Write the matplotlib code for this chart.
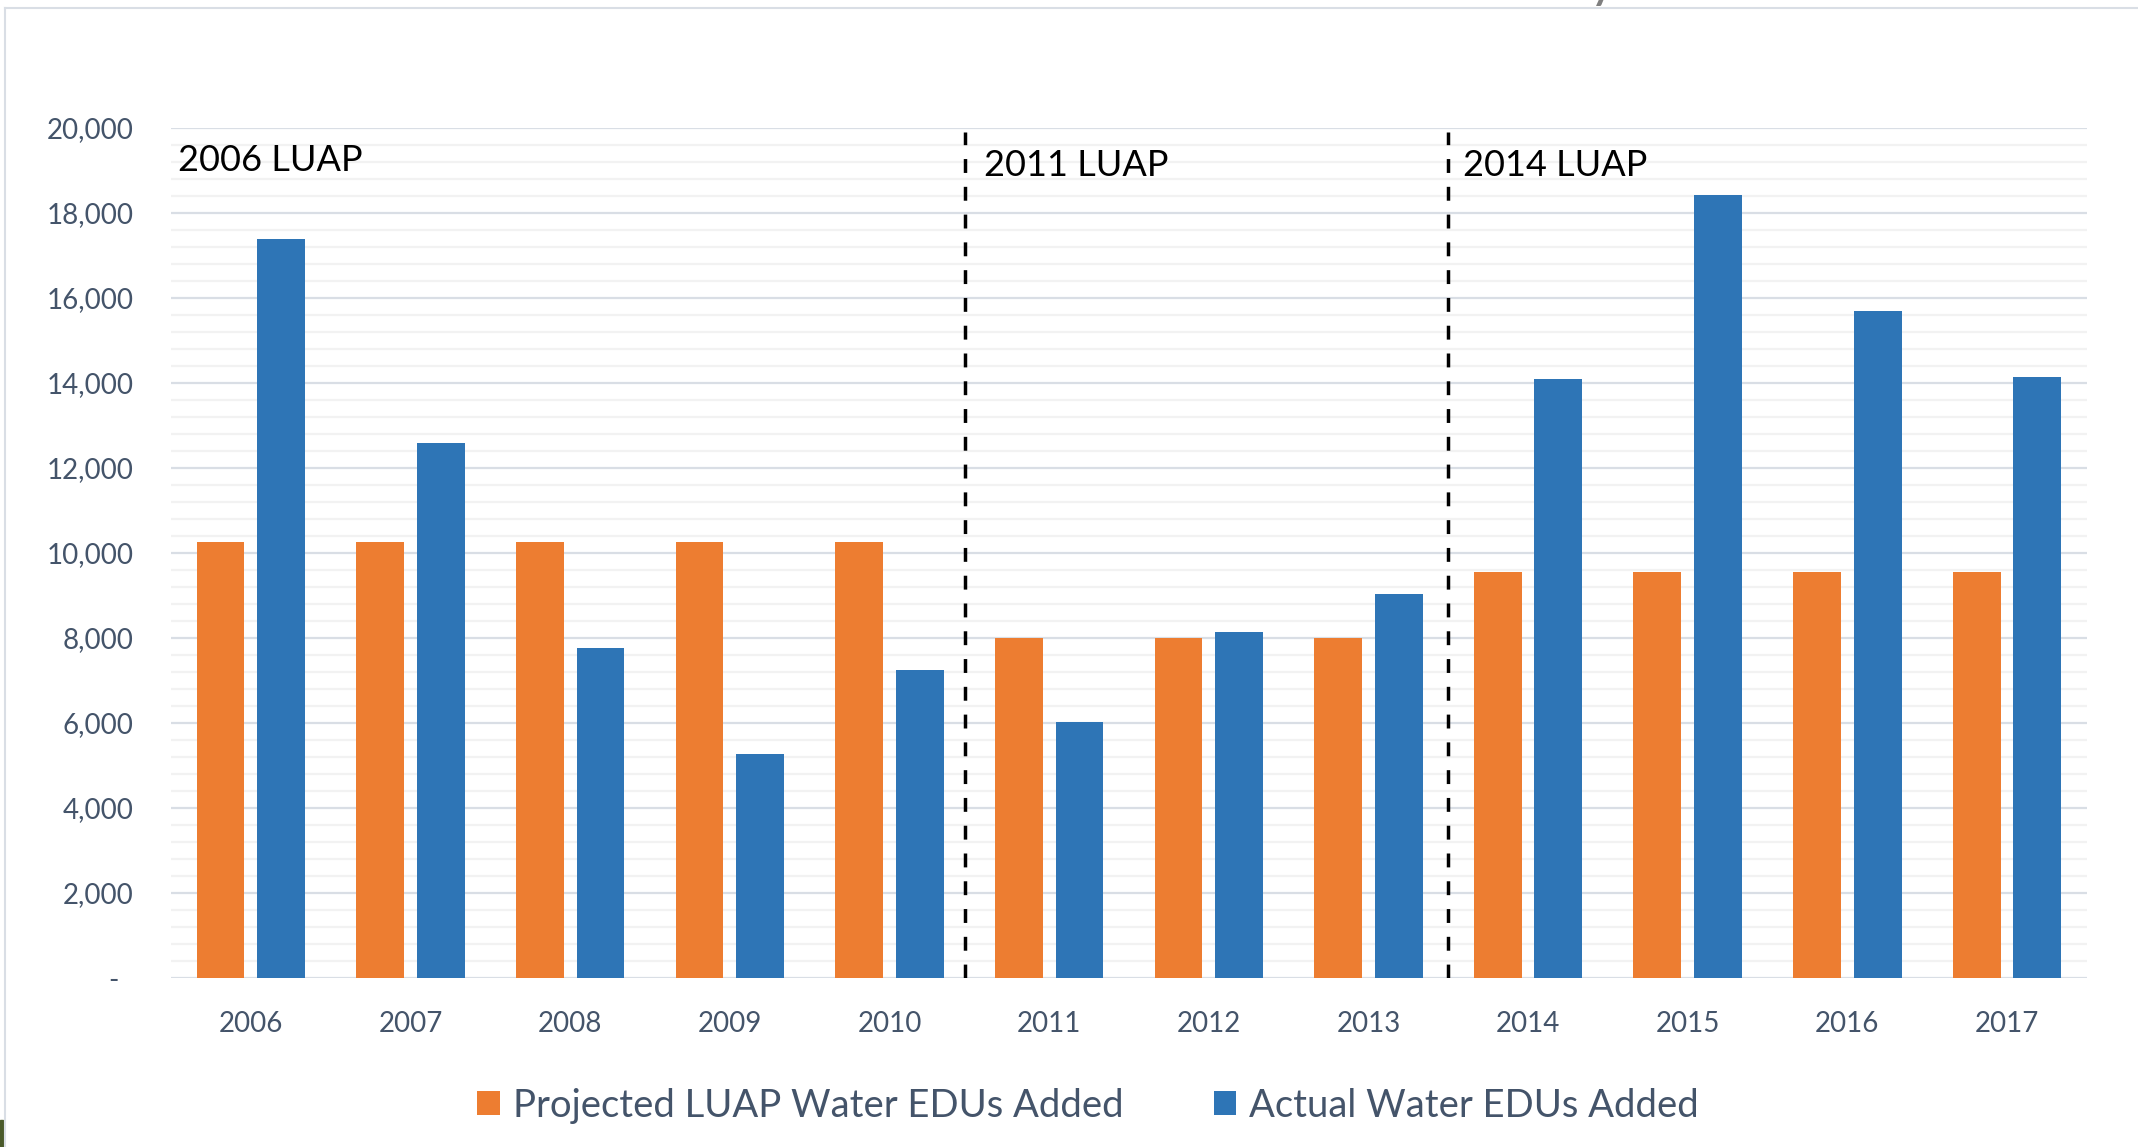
import numpy as np
import matplotlib
matplotlib.use('Agg')
import matplotlib.pyplot as plt
from matplotlib.lines import Line2D
from matplotlib.patches import Rectangle
from matplotlib.ticker import FuncFormatter, MultipleLocator

# data
years = ['2006', '2007', '2008', '2009', '2010', '2011',
         '2012', '2013', '2014', '2015', '2016', '2017']
projected = [10250, 10250, 10250, 10250, 10250, 8000,
             8000, 8000, 9550, 9550, 9550, 9550]
actual = [17400, 12600, 7760, 5270, 7240, 6020,
          8140, 9030, 14100, 18430, 15700, 14150]
plan_labels = ['2006 LUAP', '2011 LUAP', '2014 LUAP']
series_names = ['Projected LUAP Water EDUs Added', 'Actual Water EDUs Added']

# style
orange = '#ED7D31'
blue = '#2E75B6'
txt_col = '#44546A'
plt.rcParams['font.family'] = ['Lato', 'DejaVu Sans']

fig = plt.figure(figsize=(21.38, 11.47), dpi=100)
ax = fig.add_axes([0.0800, 0.1473, 0.8961, 0.7411])

x = np.arange(len(years))
w = 0.30
ax.bar(x - 0.19, projected, w, color=orange, label=series_names[0], zorder=3)
ax.bar(x + 0.19, actual, w, color=blue, label=series_names[1], zorder=3)

# LUAP period separators
for xs in (4.47, 7.5):
    ax.plot([xs, xs], [0, 19900], color='black', lw=2.5,
            dashes=(4, 4), zorder=4)

ax.text(-0.457, 18990, plan_labels[0], fontsize=26, color='black', va='baseline')
ax.text(4.59, 18870, plan_labels[1], fontsize=26, color='black', va='baseline')
ax.text(7.594, 18870, plan_labels[2], fontsize=26, color='black', va='baseline')

ax.set_xlim(-0.5, 11.5)
ax.set_ylim(0, 20000)
ax.yaxis.set_major_locator(MultipleLocator(2000))
ax.yaxis.set_minor_locator(MultipleLocator(400))
ax.grid(which='major', axis='y', color='#D9DEE5', lw=1.6, zorder=0)
ax.grid(which='minor', axis='y', color='#F2F2F2', lw=1.6, zorder=0)
ax.set_axisbelow(True)
for s in ax.spines.values():
    s.set_visible(False)

ax.yaxis.set_major_formatter(FuncFormatter(
    lambda v, p: '-  ' if v == 0 else '{:,.0f}'.format(v)))
ax.set_xticks(x)
ax.set_xticklabels(years)
ax.tick_params(axis='both', which='both', length=0, labelcolor=txt_col,
               labelsize=20)
ax.tick_params(axis='y', pad=27)
ax.tick_params(axis='x', pad=24)

fig.legend(loc='center', bbox_to_anchor=(0.509, 0.036), ncol=2, frameon=False,
           fontsize=27.5, labelcolor=txt_col, handlelength=0.6, handleheight=0.6,
           handletextpad=0.34, columnspacing=2.35)

# slide frame and cut-off bits around the chart
fig.add_artist(Line2D([5 / 2138, 1], [1 - 8 / 1147, 1 - 8 / 1147],
                      color='#D9DEE5', lw=1.5))
fig.add_artist(Line2D([5 / 2138, 5 / 2138], [0, 1 - 8 / 1147],
                      color='#D9DEE5', lw=1.5))
fig.text(1588 / 2138, 1 + 4 / 1147, 'y', fontsize=40, color='#7F7F7F',
         va='baseline')
fig.add_artist(Rectangle((0, 0), 3 / 2138, 27 / 1147, color='#4A5A2A',
                         transform=fig.transFigure))

fig.savefig('out.png', dpi=100)
